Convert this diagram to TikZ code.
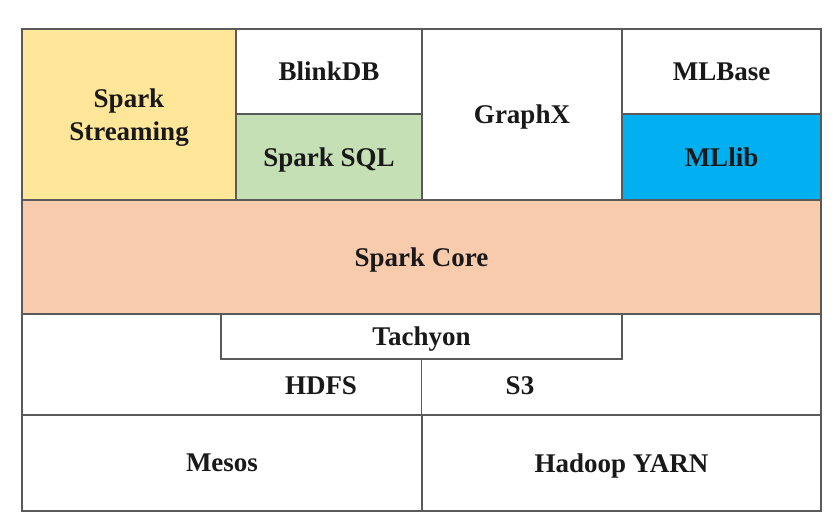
\documentclass[tikz,border=0pt]{standalone}
\usepackage{fontspec}
\setmainfont{Liberation Serif}
\usepackage{xcolor}
\definecolor{edgegray}{HTML}{5A5A5A}
\definecolor{streamyellow}{HTML}{FFE699}
\definecolor{sqlgreen}{HTML}{C5E0B4}
\definecolor{mlblue}{HTML}{00B0F0}
\definecolor{coresalmon}{HTML}{F8CBAD}
\tikzset{
  layer/.style={draw=edgegray, line width=1.2pt, fill=white, inner sep=0pt, text depth=0pt,
    align=center, font=\fontsize{27}{33}\selectfont\bfseries, text=black!90},
  label/.style={inner sep=0pt, text depth=0pt, font=\fontsize{27}{33}\selectfont\bfseries, text=black!90}
}
\begin{document}
\begin{tikzpicture}[x=1pt,y=-1pt]
  \useasboundingbox (0,0) rectangle (840,526);
  % libraries row
  \node[layer, fill=streamyellow, minimum width=214, minimum height=171] (stream) at (129,114.5) {Spark\\Streaming};
  \node[layer, minimum width=186, minimum height=85] (blinkdb) at (329,71.5) {BlinkDB};
  \node[layer, fill=sqlgreen, minimum width=186, minimum height=86] (sparksql) at (329,157) {Spark SQL};
  \node[layer, minimum width=200, minimum height=171] (graphx) at (522,114.5) {GraphX};
  \node[layer, minimum width=199, minimum height=85] (mlbase) at (721.5,71.5) {MLBase};
  \node[layer, fill=mlblue, minimum width=199, minimum height=86] (mllib) at (721.5,157) {MLlib};
  % core
  \node[layer, fill=coresalmon, minimum width=799, minimum height=114] (core) at (421.5,257) {Spark Core};
  % storage
  \node[layer, minimum width=799, minimum height=101] (storage) at (421.5,364.5) {};
  \node[layer, minimum width=401, minimum height=45] (tachyon) at (421.5,336.5) {Tachyon};
  \draw[edgegray, line width=1.2pt] (tachyon.south) -- (tachyon.south |- storage.south);
  \node[label] (hdfs) at (321,386) {HDFS};
  \node[label] (s3) at (520,386) {S3};
  % cluster managers
  \node[layer, minimum width=400, minimum height=96] (mesos) at (222,463) {Mesos};
  \node[layer, minimum width=399, minimum height=96] (yarn) at (621.5,463) {Hadoop YARN};
\end{tikzpicture}
\end{document}
